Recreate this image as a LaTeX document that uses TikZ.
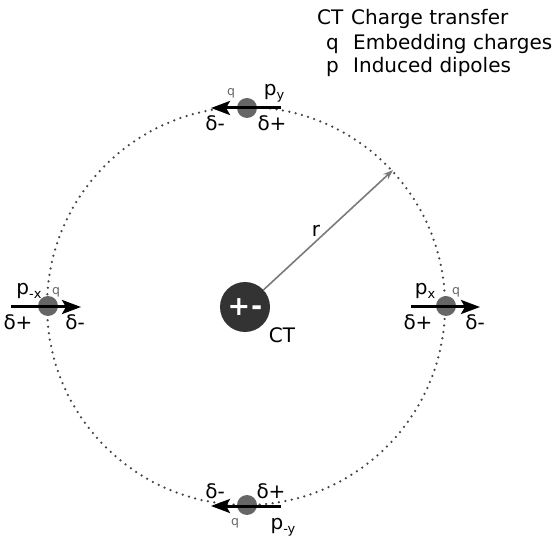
\documentclass[tikz,border=0pt]{standalone}
\usepackage{fontspec}
\setmainfont{DejaVu Sans}
\usetikzlibrary{arrows.meta}
\definecolor{ctcol}{HTML}{333333}
\definecolor{qcol}{HTML}{666666}
\definecolor{rcol}{HTML}{7A7A7A}
\definecolor{dotcol}{HTML}{444444}
\tikzset{
  lbl/.style={font=\fontsize{20}{23}\selectfont, inner sep=0pt},
  qlbl/.style={font=\fontsize{12.5}{14}\selectfont, text=qcol, inner sep=0pt},
  charge/.style={circle, fill=qcol, minimum size=20pt, inner sep=0pt},
  dipole/.style={line width=3pt, -{Stealth[length=19pt,width=14pt,inset=4pt]}},
  orbit/.style={draw=dotcol, line width=2.5pt, line cap=round, dash pattern=on 0pt off 6.5pt},
}
\newcommand{\psub}[1]{p{\fontsize{13}{15}\selectfont\raisebox{-4pt}{#1}}}
\begin{document}
\begin{tikzpicture}[x=1pt,y=-1pt]
\useasboundingbox (0,0) rectangle (557,537);
\coordinate (O) at (246,306);
\draw[orbit] (O) circle (199);
% central charge transfer
\node[circle, fill=ctcol, minimum size=50pt, inner sep=0pt, text=white,
      font=\fontsize{27}{28}\selectfont\bfseries] (ct) at (245,307) {+\kern1pt-};
\node[lbl] (ctl) at (282,335) {CT};
% radius
\coordinate (rend) at (393,170);
\draw[rcol, line width=1.6pt, -{Stealth[length=10pt,width=7pt]}] (ct) -- (rend);
\node[lbl] (rl) at (316,231) {r};
% charges
\node[charge] (qt) at (247,108) {};
\node[charge] (qb) at (247,505) {};
\node[charge] (ql) at (48,306) {};
\node[charge] (qr) at (446,306) {};
% dipole arrows
\coordinate (t1) at (281,108); \coordinate (t2) at (211,108);
\coordinate (b1) at (281,506); \coordinate (b2) at (211,506);
\coordinate (l1) at (11,307); \coordinate (l2) at (81,307);
\coordinate (r1) at (411,307); \coordinate (r2) at (480,307);
\draw[dipole] (t1) -- (t2);
\draw[dipole] (b1) -- (b2);
\draw[dipole] (l1) -- (l2);
\draw[dipole] (r1) -- (r2);
% top labels
\node[lbl] (pt) at (274,93) {\psub{y}};
\node[qlbl] (qtl) at (231,93) {q};
\node[lbl] (tdm) at (215,123) {δ-};
\node[lbl] (tdp) at (272,123) {δ+};
% bottom labels
\node[lbl] (bdm) at (215,491) {δ-};
\node[lbl] (bdp) at (271,491) {δ+};
\node[qlbl] (qbl) at (235,523) {q};
\node[lbl] (pb) at (283,527) {\psub{-y}};
% left labels
\node[lbl] (pl) at (29,291) {\psub{-x}};
\node[qlbl] (qll) at (56,292) {q};
\node[lbl] (ldp) at (18,322) {δ+};
\node[lbl] (ldm) at (75,322) {δ-};
% right labels
\node[lbl] (pr) at (425,291) {\psub{x}};
\node[qlbl] (qrl) at (456,292) {q};
\node[lbl] (rdp) at (418,322) {δ+};
\node[lbl] (rdm) at (475,322) {δ-};
% legend
\node[lbl, anchor=base west] (k1) at (317,25) {CT};
\node[lbl, anchor=base west] (v1) at (351,25) {Charge transfer};
\node[lbl, anchor=base west] (k2) at (326,50) {q};
\node[lbl, anchor=base west] (v2) at (353,50) {Embedding charges};
\node[lbl, anchor=base west] (k3) at (326,73) {p};
\node[lbl, anchor=base west] (v3) at (353,73) {Induced dipoles};
\end{tikzpicture}
\end{document}
